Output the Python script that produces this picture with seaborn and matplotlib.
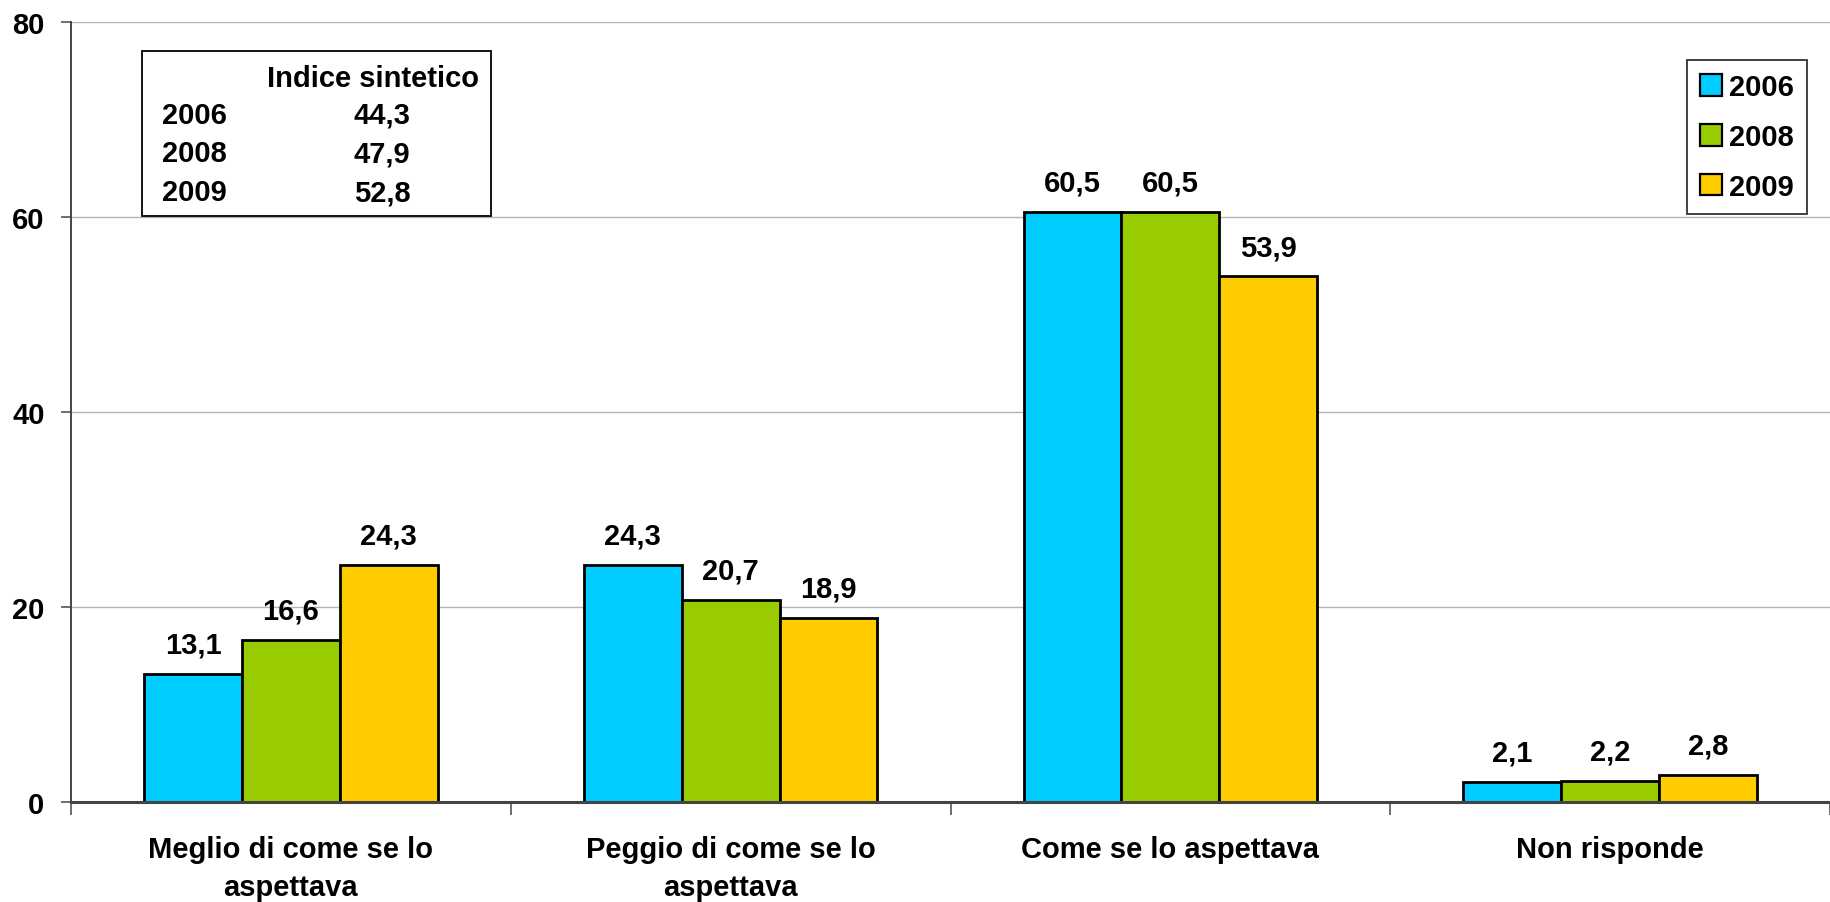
import pandas as pd
import numpy as np
import matplotlib
matplotlib.use('Agg')
import matplotlib.pyplot as plt
import seaborn as sns
from matplotlib.patches import Rectangle, Patch

sns.set_style('white')
plt.rcParams['font.family'] = ['Liberation Sans', 'DejaVu Sans']
plt.rcParams['font.weight'] = 'bold'
plt.rcParams['text.color'] = 'black'
plt.rcParams['xtick.color'] = 'black'
plt.rcParams['ytick.color'] = 'black'

# dati
categorie = ['Meglio di come se lo\naspettava', 'Peggio di come se lo\naspettava',
             'Come se lo aspettava', 'Non risponde']
anni = ['2006', '2008', '2009']
val_2006 = [13.1, 24.3, 60.5, 2.1]
val_2008 = [16.6, 20.7, 60.5, 2.2]
val_2009 = [24.3, 18.9, 53.9, 2.8]
indice_anni = ['2006', '2008', '2009']
indice_valori = [44.3, 47.9, 52.8]
colori = ['#00CCFF', '#99CC00', '#FFCC00']

df = pd.DataFrame({
    'categoria': categorie * 3,
    'anno': [a for a in anni for _ in categorie],
    'valore': val_2006 + val_2008 + val_2009,
})

fig = plt.figure(figsize=(18.3, 9.03), dpi=100)
ax = fig.add_axes([71 / 1830, 1 - 803 / 903, 1759 / 1830, 780 / 903])

sns.barplot(data=df, x='categoria', y='valore', hue='anno', palette=colori,
            width=0.667, edgecolor='black', linewidth=2, ax=ax,
            legend=False, errorbar=None, saturation=1)

# etichette valori
for cont in ax.containers:
    ax.bar_label(cont, labels=[f'{v:.1f}'.replace('.', ',') for v in cont.datavalues],
                 padding=11, fontsize=21, fontweight='bold', color='black')

ax.set_xlim(-0.5, 3.5)
ax.set_ylim(0, 80)
ax.set_yticks([0, 20, 40, 60, 80])
ax.yaxis.grid(True, color='#b3b3b3', linewidth=1)
ax.set_axisbelow(True)
ax.set_xlabel('')
ax.set_ylabel('')

ax.tick_params(axis='y', labelsize=21, length=7, width=1.2, color='#555555', pad=12, direction='out', left=True)
ax.tick_params(axis='x', which='major', labelsize=21, length=0, pad=24)
ax.set_xticks(np.arange(-0.5, 3.6, 1), minor=True)
ax.tick_params(axis='x', which='minor', length=9, width=1.2, color='#555555', direction='out', bottom=True)
for lab in ax.get_xticklabels() + ax.get_yticklabels():
    lab.set_fontweight('bold')
for lab in ax.get_xticklabels():
    lab.set_linespacing(1.45)

for s in ['top', 'right']:
    ax.spines[s].set_visible(False)
ax.spines['left'].set_color('#444444')
ax.spines['left'].set_linewidth(1.4)
ax.spines['bottom'].set_color('#444444')
ax.spines['bottom'].set_linewidth(2.2)


def pos(px, py):
    return ((px - 71) / 1759, (803 - py) / 780)


# riquadro indice sintetico
x0, y0 = pos(142, 217)
x1, y1 = pos(491, 52)
ax.add_patch(Rectangle((x0, y0), x1 - x0, y1 - y0, transform=ax.transAxes,
                       facecolor='white', edgecolor='black', linewidth=1.3, zorder=5))
hx, hy = pos(373, 79)
ax.text(hx, hy, 'Indice sintetico', transform=ax.transAxes, ha='center', va='center',
        fontsize=21, fontweight='bold', zorder=6)
for i, (a, v) in enumerate(zip(indice_anni, indice_valori)):
    ly = 116 + i * 38.5
    ax.text(*pos(162, ly), a, transform=ax.transAxes, ha='left', va='center',
            fontsize=21, fontweight='bold', zorder=6)
    ax.text(*pos(382, ly), f'{v:.1f}'.replace('.', ','), transform=ax.transAxes,
            ha='center', va='center', fontsize=21, fontweight='bold', zorder=6)

# legenda
handles = [Patch(facecolor=c, edgecolor='black', linewidth=1.6, label=a) for c, a in zip(colori, anni)]
lx, ly = pos(1807, 61)
leg = ax.legend(handles=handles, loc='upper right', bbox_to_anchor=(lx, ly),
                bbox_transform=ax.transAxes, frameon=True, fancybox=False,
                handlelength=0.75, handleheight=0.75, handletextpad=0.25,
                labelspacing=0.75, borderpad=0.45, borderaxespad=0,
                prop={'size': 21, 'weight': 'bold'})
leg.get_frame().set_edgecolor('black')
leg.get_frame().set_linewidth(1.3)

fig.savefig('out.png', dpi=100)
